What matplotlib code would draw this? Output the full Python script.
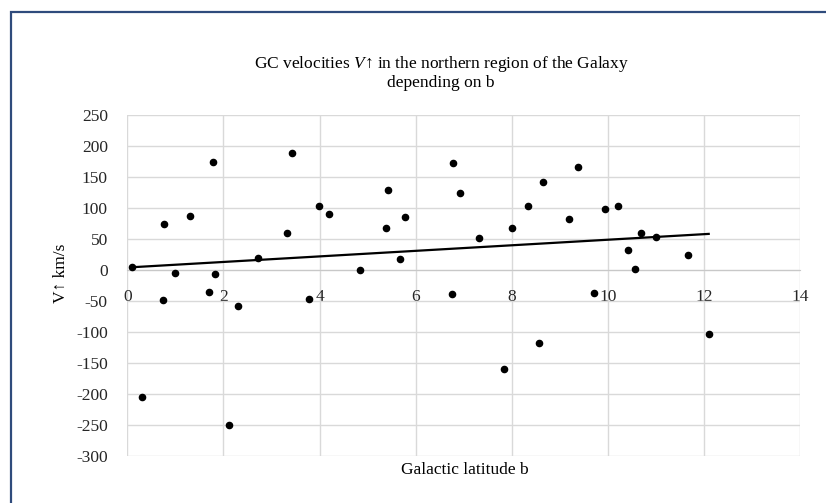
import matplotlib.pyplot as plt
import numpy as np
from matplotlib.patches import Rectangle

plt.rcParams['font.family'] = ['Liberation Serif', 'DejaVu Serif']
plt.rcParams['mathtext.fontset'] = 'custom'
plt.rcParams['mathtext.it'] = 'Liberation Serif:italic'
plt.rcParams['mathtext.rm'] = 'Liberation Serif'
plt.rcParams['axes.unicode_minus'] = False

# galactic latitude b and velocity V (km/s)
lat_b = [0.09, 0.30, 0.75, 0.76, 0.99, 1.31, 1.69, 1.78, 1.83, 2.12, 2.30,
         2.73, 3.32, 3.43, 3.79, 3.98, 4.19, 4.85, 5.38, 5.43, 5.67, 5.77,
         6.76, 6.78, 6.93, 7.32, 7.84, 8.00, 8.34, 8.57, 8.65, 9.20, 9.38,
         9.72, 9.94, 10.21, 10.42, 10.56, 10.69, 11.01, 11.67, 12.10]
vel = [5, -205, -48, 74, -5, 87, -35, 175, -6, -250, -58,
       19, 59, 189, -46, 103, 91, 0, 68, 129, 17, 86,
       -39, 172, 124, 52, -160, 67, 103, -118, 142, 82, 166,
       -37, 98, 104, 32, 2, 59, 53, 25, -103]

xticks = [0, 2, 4, 6, 8, 10, 12, 14]
yticks = list(range(-300, 251, 50))

title = "GC velocities $V$\u2191 in the northern region of the Galaxy\ndepending on b"

fig = plt.figure(figsize=(8.26, 5.03), dpi=100)
ax = fig.add_axes([127.3 / 826, 47 / 503, 672.7 / 826, 341 / 503])

x = np.array(lat_b)
y = np.array(vel)
k, c = np.polyfit(x, y, 1)
xs = np.array([x.min(), x.max()])

ax.scatter(x, y, s=20, color='black', zorder=3)
ax.plot(xs, k * xs + c, color='black', lw=1.6, zorder=2)

ax.set_xlim(0, 14)
ax.set_ylim(-300, 250)
ax.set_xticks(xticks)
ax.set_yticks(yticks)
ax.grid(True, color='#d9d9d9', lw=1)
ax.set_axisbelow(True)
for s in ['top', 'right', 'left']:
    ax.spines[s].set_visible(False)
ax.spines['bottom'].set_position(('data', 0))
ax.spines['bottom'].set_color('#c8c8c8')
ax.tick_params(length=0, labelsize=12.5, colors='#262626')
ax.tick_params(axis='x', pad=13.5)
ax.tick_params(axis='y', pad=14)

ax.set_ylabel('V\u2191 km/s', fontsize=12.5)
ax.yaxis.set_label_coords(-0.087, 0.537)
fig.text(465 / 826, 1 - 470 / 503, 'Galactic latitude b', ha='center', va='center', fontsize=12.5)
fig.text(441 / 826, 1 - 72.5 / 503, title, ha='center', va='center', fontsize=12.5, linespacing=1.12)

fig.add_artist(Rectangle((10.5 / 826, -0.1), 1.2, 1.1 - 12 / 503, fill=False,
                         edgecolor='#2f4b7c', lw=1.6, transform=fig.transFigure))

fig.savefig('out.png', dpi=100)
